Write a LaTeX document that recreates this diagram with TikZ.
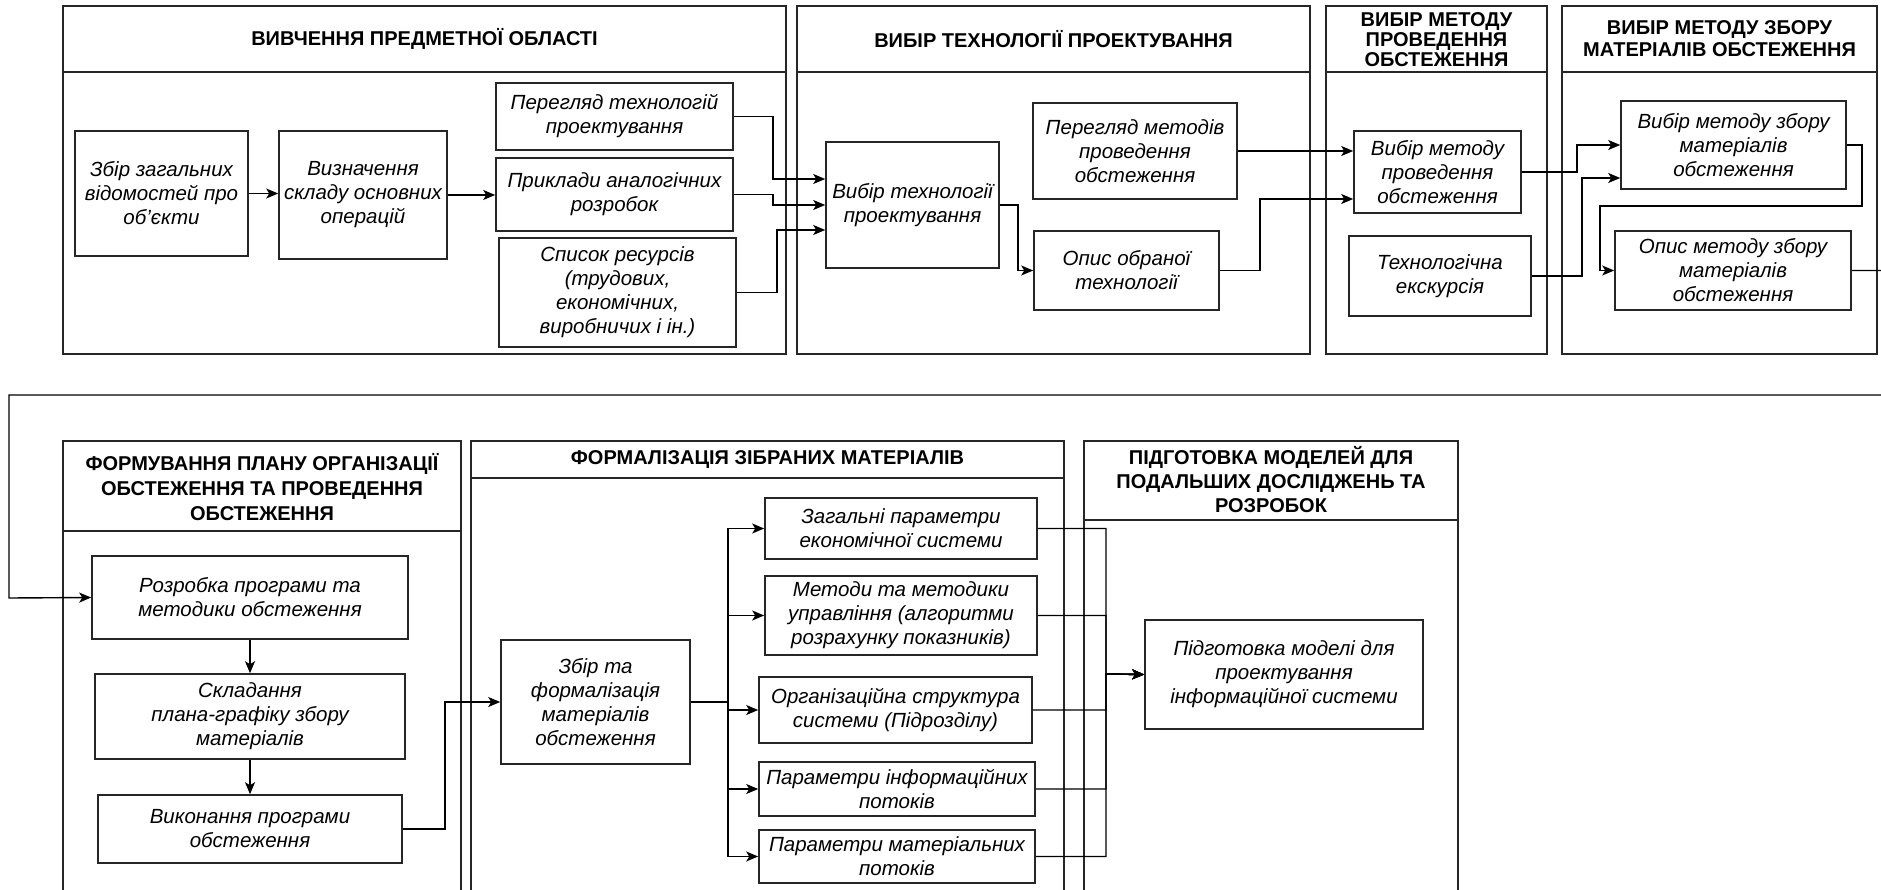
\documentclass[tikz,border=0pt]{standalone}
\usepackage{fontspec}
\setmainfont{Liberation Sans}
\usepackage{tikz}
\usetikzlibrary{positioning, shapes, arrows.meta}
\usetikzlibrary{backgrounds}

\begin{document}
\begin{tikzpicture}[x=1pt, y=-1pt,
        box/.style={draw=black!85, line width=1.6pt, align=center, inner sep=2pt, font=\fontsize{20.5}{24}\selectfont\itshape},
        head/.style={align=center, font=\fontsize{20}{24}\selectfont\bfseries},
        frame/.style={draw=black!85, line width=1.6pt},
        arr/.style={-{Stealth[length=12pt, width=10pt, inset=3pt]}, line width=1.4pt},
        link/.style={line width=1.4pt}]
        \useasboundingbox (0,0) rectangle (1881,890);
        \fill[white] (0,0) rectangle (1881,890);

                % Draw the frames of the first row
                \draw[frame] (63,6) rectangle (786,354);
                \draw[frame] (63,72) -- (786,72);
                \draw[frame] (797,6) rectangle (1310,354);
                \draw[frame] (797,72) -- (1310,72);
                \draw[frame] (1326,6) rectangle (1547,354);
                \draw[frame] (1326,72) -- (1547,72);
                \draw[frame] (1562,6) rectangle (1877,354);
                \draw[frame] (1562,72) -- (1877,72);

                % Draw the frames of the second row (open at the bottom)
                \draw[frame] (63,895) |- (461,441) -- (461,895);
                \draw[frame] (63,531) -- (461,531);
                \draw[frame] (471,895) |- (1064,441) -- (1064,895);
                \draw[frame] (471,478) -- (1064,478);
                \draw[frame] (1084,895) |- (1458,441) -- (1458,895);
                \draw[frame] (1084,520) -- (1458,520);

                % Headings
                \node[head] (h1) at (424.5,39) {ВИВЧЕННЯ ПРЕДМЕТНОЇ ОБЛАСТІ};
                \node[head] (h2) at (1053.5,39) {ВИБІР ТЕХНОЛОГІЇ ПРОЕКТУВАННЯ};
                \node[head, font=\fontsize{20}{20}\selectfont\bfseries] (h3) at (1436.5,40) {ВИБІР МЕТОДУ\\ПРОВЕДЕННЯ\\ОБСТЕЖЕННЯ};
                \node[head, font=\fontsize{20}{22}\selectfont\bfseries] (h4) at (1719.5,39) {ВИБІР МЕТОДУ ЗБОРУ\\МАТЕРІАЛІВ ОБСТЕЖЕННЯ};
                \node[head, font=\fontsize{20}{25}\selectfont\bfseries] (h5) at (262,487) {ФОРМУВАННЯ ПЛАНУ ОРГАНІЗАЦІЇ\\ОБСТЕЖЕННЯ ТА ПРОВЕДЕННЯ\\ОБСТЕЖЕННЯ};
                \node[head] (h6) at (767.5,459.5) {ФОРМАЛІЗАЦІЯ ЗІБРАНИХ МАТЕРІАЛІВ};
                \node[head] (h7) at (1271,480) {ПІДГОТОВКА МОДЕЛЕЙ ДЛЯ\\ПОДАЛЬШИХ ДОСЛІДЖЕНЬ ТА\\РОЗРОБОК};

                % Draw boxes of the first row
                \node[box, minimum width=173pt, minimum height=125pt] (zbir) at (161.5,193.5) {Збір загальних\\відомостей про\\об'єкти};
                \node[box, minimum width=168pt, minimum height=128pt] (vyzn) at (363,195) {Визначення\\складу основних\\операцій};
                \node[box, minimum width=237pt, minimum height=67pt] (perehl_tech) at (614.5,116.5) {Перегляд технологій\\проектування};
                \node[box, minimum width=237pt, minimum height=73pt] (pryklady) at (614.5,194.5) {Приклади аналогічних\\розробок};
                \node[box, minimum width=237pt, minimum height=109pt] (spysok) at (617.5,292.5) {Список ресурсів\\(трудових,\\економічних,\\виробничих і ін.)};

                \node[box, minimum width=173pt, minimum height=126pt] (vybir_tech) at (912.5,205) {Вибір технології\\проектування};
                \node[box, minimum width=204pt, minimum height=96pt] (perehl_met) at (1135,151) {Перегляд методів\\проведення\\обстеження};
                \node[box, minimum width=185pt, minimum height=79pt] (opys_tech) at (1126.5,270.5) {Опис обраної\\технології};

                \node[box, minimum width=167pt, minimum height=82pt] (vybir_met) at (1437.5,172) {Вибір методу\\проведення\\обстеження};
                \node[box, minimum width=182pt, minimum height=80pt] (tekh_eks) at (1440,276) {Технологічна\\екскурсія};

                \node[box, minimum width=225pt, minimum height=88pt] (vybir_zb) at (1733.5,145) {Вибір методу збору\\матеріалів\\обстеження};
                \node[box, minimum width=236pt, minimum height=79pt] (opys_zb) at (1733,270.5) {Опис методу збору\\матеріалів\\обстеження};

                % Draw boxes of the second row
                \node[box, minimum width=316pt, minimum height=83pt] (rozrobka) at (250,597.5) {Розробка програми та\\методики обстеження};
                \node[box, minimum width=310pt, minimum height=85pt] (skladannia) at (250,716.5) {Складання\\плана-графіку збору\\матеріалів};
                \node[box, minimum width=304pt, minimum height=68pt] (vykonannia) at (250,829) {Виконання програми\\обстеження};

                \node[box, minimum width=189pt, minimum height=124pt] (zbir_form) at (595.5,702) {Збір та\\формалізація\\матеріалів\\обстеження};
                \node[box, minimum width=272pt, minimum height=61pt] (zah_par) at (901,528.5) {Загальні параметри\\економічної системи};
                \node[box, minimum width=272pt, minimum height=79pt] (metody) at (901,615.5) {Методи та методики\\управління (алгоритми\\розрахунку показників)};
                \node[box, minimum width=273pt, minimum height=66pt] (orh) at (895.5,710) {Організаційна структура\\системи (Підрозділу)};
                \node[box, minimum width=276pt, minimum height=54pt] (par_inf) at (897,789) {Параметри інформаційних\\потоків};
                \node[box, minimum width=276pt, minimum height=53pt] (par_mat) at (897,856.5) {Параметри матеріальних\\потоків};

                \node[box, minimum width=278pt, minimum height=109pt] (pidhot) at (1284,674.5) {Підготовка моделі для\\проектування\\інформаційної системи};

                % Draw edges of the first row
                \draw[arr] (zbir.east) -- (zbir.east -| vyzn.west);
                \draw[arr] (vyzn.east) -- (vyzn.east -| pryklady.west);
                \draw[arr] (perehl_tech.east) -| (773,179) -- (vybir_tech.west |- 0,179);
                \draw[arr] (pryklady.east) -| (773,205) -- (vybir_tech.west |- 0,205);
                \draw[arr] (spysok.east) -| (777,230) -- (vybir_tech.west |- 0,230);
                \draw[arr] (vybir_tech.east) -| (1018,270.5) -- (opys_tech.west);
                \draw[arr] (perehl_met.east) -- (perehl_met.east -| vybir_met.west);
                \draw[arr] (opys_tech.east) -| (1260,199) -- (vybir_met.west |- 0,199);
                \draw[arr] (vybir_met.east) -| (1577,145) -- (vybir_zb.west);
                \draw[arr] (tekh_eks.east) -| (1582,178) -- (vybir_zb.west |- 0,178);
                \draw[arr] (vybir_zb.east) -| (1862,206) -- (1600,206) |- (opys_zb.west);

                % Draw the edge from the first row to the second row
                \draw[arr] (opys_zb.east) -| (1886,395) -| (9,598) -- (rozrobka.west);

                % Draw edges of the second row
                \draw[arr] (rozrobka.south) -- (skladannia.north);
                \draw[arr] (skladannia.south) -- (vykonannia.north);
                \draw[arr] (vykonannia.east) -| (445,702) -- (zbir_form.west);

                \draw[arr] (zbir_form.east) -- (728,702) |- (zah_par.west);
                \draw[arr] (zbir_form.east) -- (728,702) |- (metody.west);
                \draw[arr] (zbir_form.east) -- (728,702) |- (orh.west);
                \draw[arr] (zbir_form.east) -- (728,702) |- (par_inf.west);
                \draw[arr] (zbir_form.east) -- (728,702) |- (par_mat.west);

                \draw[arr] (zah_par.east) -| (1106,674) -- (pidhot.west);
                \draw[arr] (metody.east) -| (1106,674) -- (pidhot.west);
                \draw[arr] (orh.east) -| (1106,674) -- (pidhot.west);
                \draw[arr] (par_inf.east) -| (1106,674) -- (pidhot.west);
                \draw[arr] (par_mat.east) -| (1106,674) -- (pidhot.west);
\end{tikzpicture}
\end{document}
